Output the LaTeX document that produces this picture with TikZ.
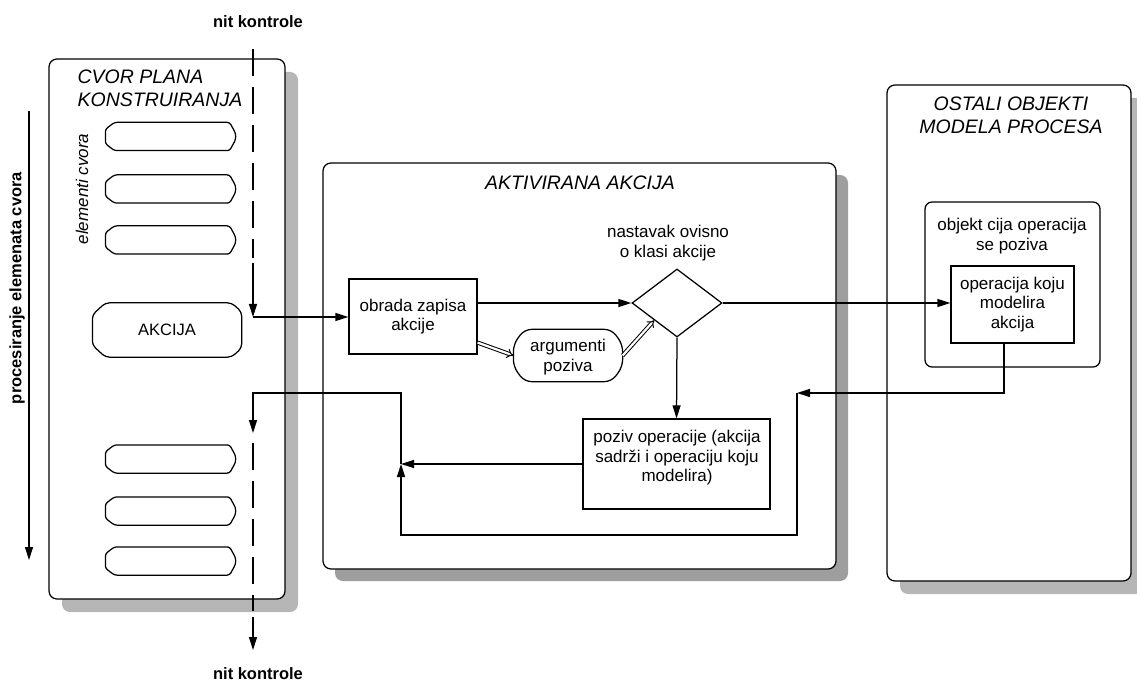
\documentclass[tikz,border=0pt]{standalone}
\usepackage{fontspec}
\setmainfont{Liberation Sans}
\usetikzlibrary{arrows.meta,shapes.geometric,shadows,calc}
\definecolor{shA}{RGB}{182,182,182}
\definecolor{shB}{RGB}{158,158,158}
% outline of a terminal-like shape around node #1:
% #2 left chamfer x, #3 left chamfer y, #4 right chamfer x, #5 right chamfer y, #6 corner radius
\newcommand\termoutline[6]{%
  \draw[fill=white,rounded corners=#6]
    ($(#1.north west)+(#2,0)$) -- ($(#1.north east)+(-#4,0)$)
    -- ($(#1.north east)+(0,#5)$) -- ($(#1.south east)+(0,-#5)$)
    -- ($(#1.south east)+(-#4,0)$) -- ($(#1.south west)+(#2,0)$)
    -- ($(#1.south west)+(0,-#3)$) -- ($(#1.north west)+(0,#3)$) -- cycle;}
\begin{document}
\begin{tikzpicture}[x=1pt,y=-1pt,line width=1.25pt,
  bigbox/.style={draw,fill=white,rounded corners=8pt,inner sep=0pt},
  shadA/.style={drop shadow={shadow xshift=13pt,shadow yshift=-13pt,fill=shA,opacity=1}},
  shadB/.style={drop shadow={shadow xshift=12pt,shadow yshift=-12pt,fill=shB,opacity=1}},
  elem/.style={rectangle,inner sep=0pt,minimum width=129pt,minimum height=27pt},
  plainbox/.style={draw,fill=white,rectangle,inner sep=0pt,align=center},
  txt/.style={font=\fontsize{17pt}{19.5pt}\selectfont,inner sep=0pt,align=center},
  lbl/.style={font=\fontsize{16.5pt}{19pt}\selectfont\bfseries,inner sep=0pt},
  ttl/.style={font=\fontsize{19.5pt}{23pt}\selectfont\itshape,inner sep=0pt},
  arr/.style={-{Triangle[length=13pt,width=8pt]}},
  dashline/.style={dash pattern=on 27pt off 11pt},
  dbl/.style={double,double distance=2.2pt,line width=1pt,-{Implies}}]
\useasboundingbox (0,0) rectangle (1137,684);

% big boxes
\node[bigbox,shadA,minimum width=236pt,minimum height=540pt] (cvor) at (167,329) {};
\node[bigbox,shadB,minimum width=513pt,minimum height=406pt] (akt) at (579.5,366) {};
\node[bigbox,shadA,minimum width=244pt,minimum height=496pt] (ost) at (1009,333) {};

% titles
\node[ttl,anchor=west,align=left] (tcvor) at (77,88.4) {CVOR PLANA\\KONSTRUIRANJA};
\node[ttl] (takt) at (580,182.5) {AKTIVIRANA AKCIJA};
\node[ttl,align=center] (tost) at (1011,115.5) {OSTALI OBJEKTI\\MODELA PROCESA};

% labels outside
\node[lbl] (nk1) at (258,21.5) {nit kontrole};
\node[lbl] (nk2) at (258,674) {nit kontrole};
\node[lbl,rotate=90] (proc) at (17,288) {procesiranje elemenata cvora};
\node[txt,rotate=90] (elcv) at (82,189) {\itshape elementi cvora};

% element shapes in left box
\node[elem] (e1) at (170.5,136.5) {};
\node[elem] (e2) at (170.5,189) {};
\node[elem] (e3) at (170.5,240) {};
\node[elem] (e5) at (170.5,459) {};
\node[elem] (e6) at (170.5,511) {};
\node[elem] (e7) at (170.5,561) {};
\foreach \n in {e1,e2,e3,e5,e6,e7} {\termoutline{\n}{9}{7}{6}{11}{2.5pt}}
\node[elem,minimum width=148pt,minimum height=53pt] (akc) at (167,330) {};
\termoutline{akc}{13}{12}{10}{9}{4pt}
\node[txt,font=\fontsize{16.5pt}{19pt}\selectfont] (akct) at (167,330) {AKCIJA};

% middle box contents
\node[plainbox,txt,minimum width=128pt,minimum height=75pt] (obrada) at (413,316.5) {obrada zapisa\\akcije};
\node[draw,fill=white,diamond,aspect=1.32,minimum width=90pt,minimum height=68pt,inner sep=0pt] (dia) at (677,303) {};
\node[txt] (nast) at (668,243) {nastavak ovisno\\o klasi akcije};
\node[elem,minimum width=108pt,minimum height=51pt] (arg) at (568,355.5) {};
\termoutline{arg}{11}{15}{11}{15}{7pt}
\node[txt] (argt) at (568,357) {argumenti\\poziva};
\node[plainbox,minimum width=187pt,minimum height=90pt] (poziv) at (676.5,464) {};
\node[txt] (pozt) at (677,458) {poziv operacije (akcija\\sadrži i operaciju koju\\modelira)};

% right box contents
\node[bigbox,minimum width=175pt,minimum height=165pt,rounded corners=7pt] (obj) at (1012.5,284.5) {};
\node[txt] (objt) at (1012,236) {objekt cija operacija\\se poziva};
\node[plainbox,txt,minimum width=123pt,minimum height=77pt] (op) at (1012.5,304.5) {operacija koju\\modelira\\akcija};

% coordinates
\coordinate (ntop) at (253,49);
\coordinate (nd1) at (253,258);
\coordinate (nmid) at (253,263);
\coordinate (j1) at (253,317);
\coordinate (opb) at (1004,343);
\coordinate (r1) at (797,393);
\coordinate (r2) at (797,535);
\coordinate (r3) at (401,535);
\coordinate (jm) at (401,464);
\coordinate (l1) at (401,393);
\coordinate (l2) at (253,393);
\coordinate (l3) at (253,433);
\coordinate (l4) at (253,443);
\coordinate (l5) at (253,611);
\coordinate (l6) at (253,617);
\coordinate (nbot) at (253,650);
\coordinate (pa) at (29,111);
\coordinate (pb) at (29,560);

% connectors
\draw[dashline] (ntop) -- (nd1);
\draw[arr] (nmid) -- (j1);
\draw[arr] (j1) -- (j1 -| obrada.west);
\draw[arr] (obrada.east |- dia.west) -- (dia.west);
\draw[arr] (dia.east) -- (dia.east -| op.west);
\draw[arr] (opb) |- (r1);
\draw[arr] (r1) -- (r2) -- (r3) -- (jm);
\draw[arr] (poziv.west) -- (jm);
\draw[arr] (jm) -- (l1) -- (l2) -- (l3);
\draw[dashline] (l4) -- (l5);
\draw[arr] (l6) -- (nbot);
\draw[arr] (dia.south) -- (poziv.north);
\draw[dbl] (obrada.-22) -- (arg.west);
\draw[dbl] (arg.east) -- (dia.south west);
\draw[arr] (pa) -- (pb);
\end{tikzpicture}
\end{document}
